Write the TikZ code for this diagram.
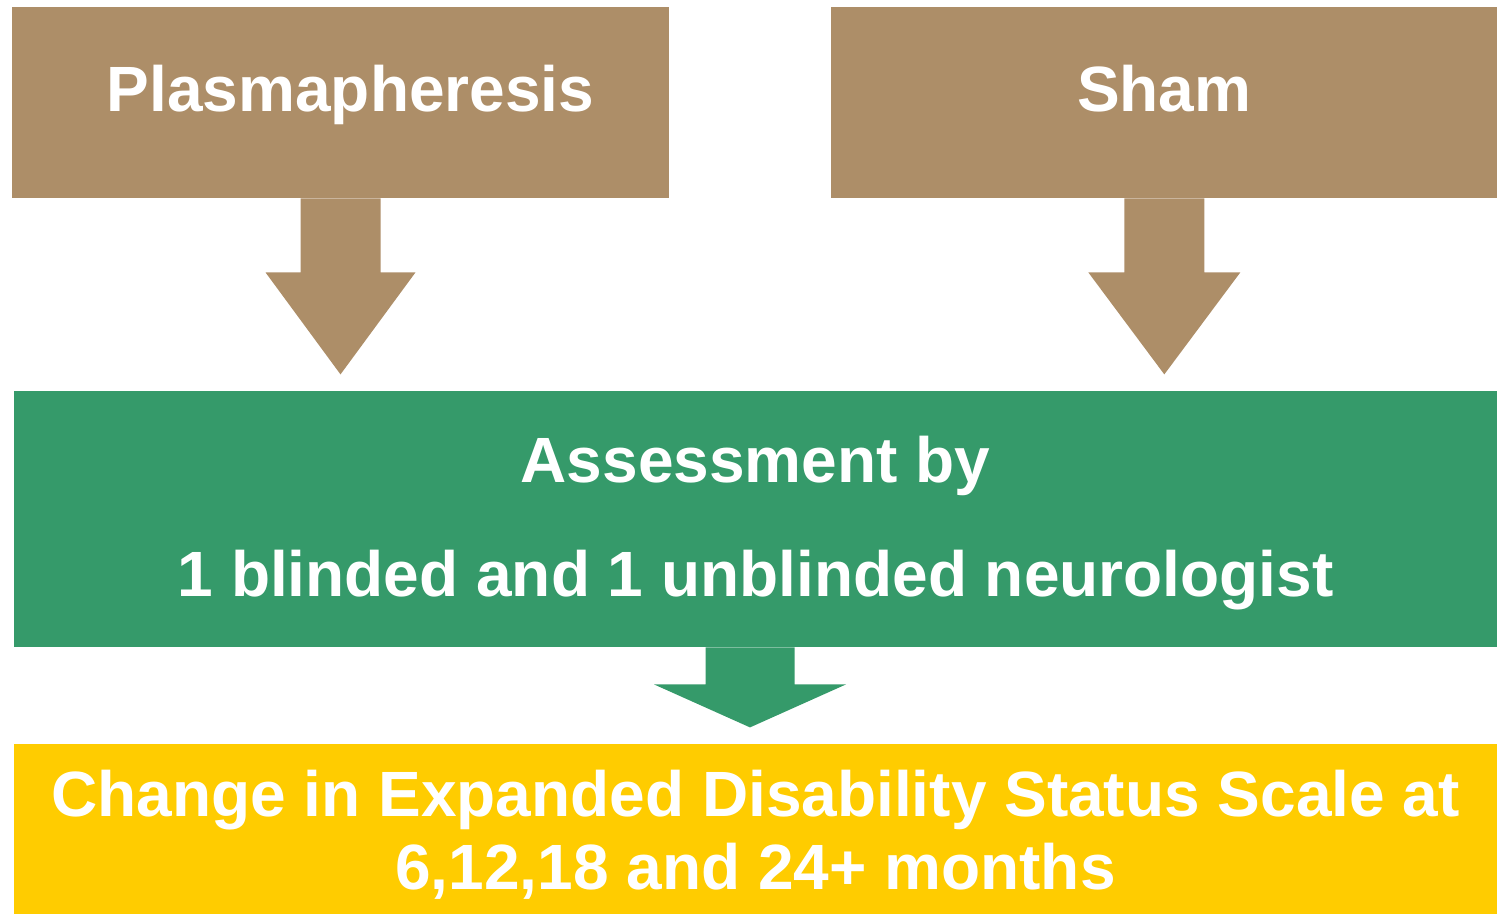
\documentclass[tikz,border=0pt]{standalone}
\usepackage{fontspec}
\setmainfont{Liberation Sans}
\usetikzlibrary{positioning}

\definecolor{armtan}{RGB}{173,142,104}
\definecolor{assessgreen}{RGB}{53,154,106}
\definecolor{outcomeyellow}{RGB}{255,204,0}

\begin{document}
\begin{tikzpicture}[
  arm/.style={rectangle, fill=armtan, minimum height=95.5pt, inner sep=0pt, text=white, font=\bfseries\fontsize{32}{38}\selectfont, text height=20pt, text depth=10.5pt},
  assess/.style={rectangle, fill=assessgreen, minimum width=741.5pt, minimum height=128pt, inner sep=0pt, text=white, align=center, font=\bfseries\fontsize{32}{57}\selectfont},
  outcome/.style={rectangle, fill=outcomeyellow, minimum width=741.5pt, minimum height=85.5pt, inner sep=0pt, text=white, align=center, font=\bfseries\fontsize{32}{36.5}\selectfont}
]

\useasboundingbox (0,0) rectangle (748.5pt,-457pt);

% Arms
\node[arm, minimum width=328.5pt] (plasma) at (170.25pt,-51.25pt) {\hspace*{10pt}Plasmapheresis};
\node[arm, minimum width=333.5pt, right=80.5pt of plasma] (sham) {Sham};

% Assessment and outcome
\node[assess] (assess) at (377.75pt,-259.5pt) {\rule{0pt}{27.4pt}Assessment by\\1 blinded and 1 unblinded neurologist};
\node[outcome, below=48pt of assess] (outcome) {\rule{0pt}{28.3pt}Change in Expanded Disability Status Scale at\\6,12,18 and 24+ months};

% Block arrows
\fill[armtan] (plasma.south) ++(-20pt,0) -- ++(0,-37pt) -- ++(-17.5pt,0) -- ++(37.5pt,-51pt) -- ++(37.5pt,51pt) -- ++(-17.5pt,0) -- ++(0,37pt) -- cycle;
\fill[armtan] (sham.south) ++(-20pt,0) -- ++(0,-37pt) -- ++(-18pt,0) -- ++(38pt,-51pt) -- ++(38pt,51pt) -- ++(-18pt,0) -- ++(0,37pt) -- cycle;
\fill[assessgreen] ([xshift=-2.75pt]assess.south) ++(-22.25pt,0) -- ++(0,-18.5pt) -- ++(-25.75pt,0) -- ++(48pt,-21.5pt) -- ++(48pt,21.5pt) -- ++(-25.75pt,0) -- ++(0,18.5pt) -- cycle;

\end{tikzpicture}
\end{document}
